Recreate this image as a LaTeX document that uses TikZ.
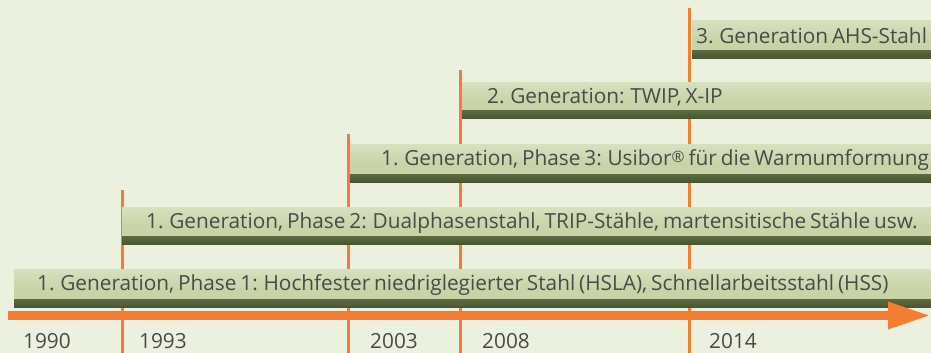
\documentclass[tikz,border=0pt]{standalone}
\usepackage{fontspec}
\setmainfont[WordSpace=0.72]{Open Sans}
\usetikzlibrary{positioning, arrows.meta}
\definecolor{bgcol}{HTML}{ECF0DF}
\definecolor{barcol}{HTML}{C8D4A8}
\definecolor{barlight}{HTML}{D8E0C0}
\definecolor{bardark}{HTML}{48572F}
\definecolor{barmid}{HTML}{A4B085}
\definecolor{axiscol}{HTML}{F47D31}
\definecolor{txtcol}{HTML}{4A4A4A}
\newcommand{\regmark}{\raisebox{0.25ex}{\scalebox{0.75}{®}}}

\begin{document}
\begin{tikzpicture}[
    x=1pt, y=-1pt,
    font=\fontsize{20.8}{24}\selectfont,
    % bars of the generations
    bar/.style={rectangle, anchor=north west, inner sep=0pt, minimum height=#1,
        top color=barlight, bottom color=barcol, middle color=barcol,
        path picture={\fill[top color=barmid, bottom color=bardark]
            ([yshift=8pt]path picture bounding box.south west) rectangle
            (path picture bounding box.south east);}},
    bartext/.style={anchor=west, inner sep=0pt, text=txtcol},
    year/.style={anchor=west, inner sep=0pt, text=txtcol},
    tick/.style={draw=axiscol, line width=3pt},
    axis/.style={draw=axiscol, line width=9pt, -{Triangle[length=43pt, width=25pt]}}
]
    \useasboundingbox[fill=bgcol] (0,0) rectangle (931,353);

    % year marks
    \coordinate (t93) at (122,190);
    \coordinate (t03) at (348,134);
    \coordinate (t08) at (460,70);
    \coordinate (t14) at (689,8);
    \coordinate (b93) at (122,353);
    \coordinate (b03) at (348,353);
    \coordinate (b08) at (460,353);
    \coordinate (b14) at (689,353);
    \draw[tick] (t93) -- (b93);
    \draw[tick] (t03) -- (b03);
    \draw[tick] (t08) -- (b08);
    \draw[tick] (t14) -- (b14);

    \node[bar=38pt, minimum width=917pt] (g1p1) at (14,269) {};
    \node[bar=37pt, minimum width=809pt] (g1p2) at (122,207) {};
    \node[bar=38pt, minimum width=581pt] (g1p3) at (350,144) {};
    \node[bar=36pt, minimum width=469pt] (g2) at (462,82) {};
    \node[bar=38pt, minimum width=239pt] (g3) at (692,20) {};

    \node[bartext] (l1) at ([xshift=23pt, yshift=3pt]g1p1.west) {1. Generation, Phase 1: Hochfester niedriglegierter Stahl (HSLA), Schnellarbeitsstahl (HSS)};
    \node[bartext] (l2) at ([xshift=24pt, yshift=3pt]g1p2.west) {1. Generation, Phase 2: Dualphasenstahl, TRIP-Stähle, martensitische Stähle usw.};
    \node[bartext] (l3) at ([xshift=31pt, yshift=3pt]g1p3.west) {1. Generation, Phase 3: Usibor\regmark{} für die Warmumformung};
    \node[bartext] (l4) at ([xshift=25pt, yshift=3pt]g2.west) {2. Generation: TWIP, X-IP};
    \node[bartext] (l5) at ([xshift=4pt, yshift=3pt]g3.west) {3. Generation AHS-Stahl};

    \coordinate (ax0) at (8,315.5);
    \coordinate (ax1) at (931,315.5);
    \draw[axis] (ax0) -- (ax1);

    \node[year] (y90) at (23,341) {1990};
    \node[year] (y93) at (139,341) {1993};
    \node[year] (y03) at (370,341) {2003};
    \node[year] (y08) at (482,341) {2008};
    \node[year] (y14) at (709,341) {2014};
\end{tikzpicture}
\end{document}
